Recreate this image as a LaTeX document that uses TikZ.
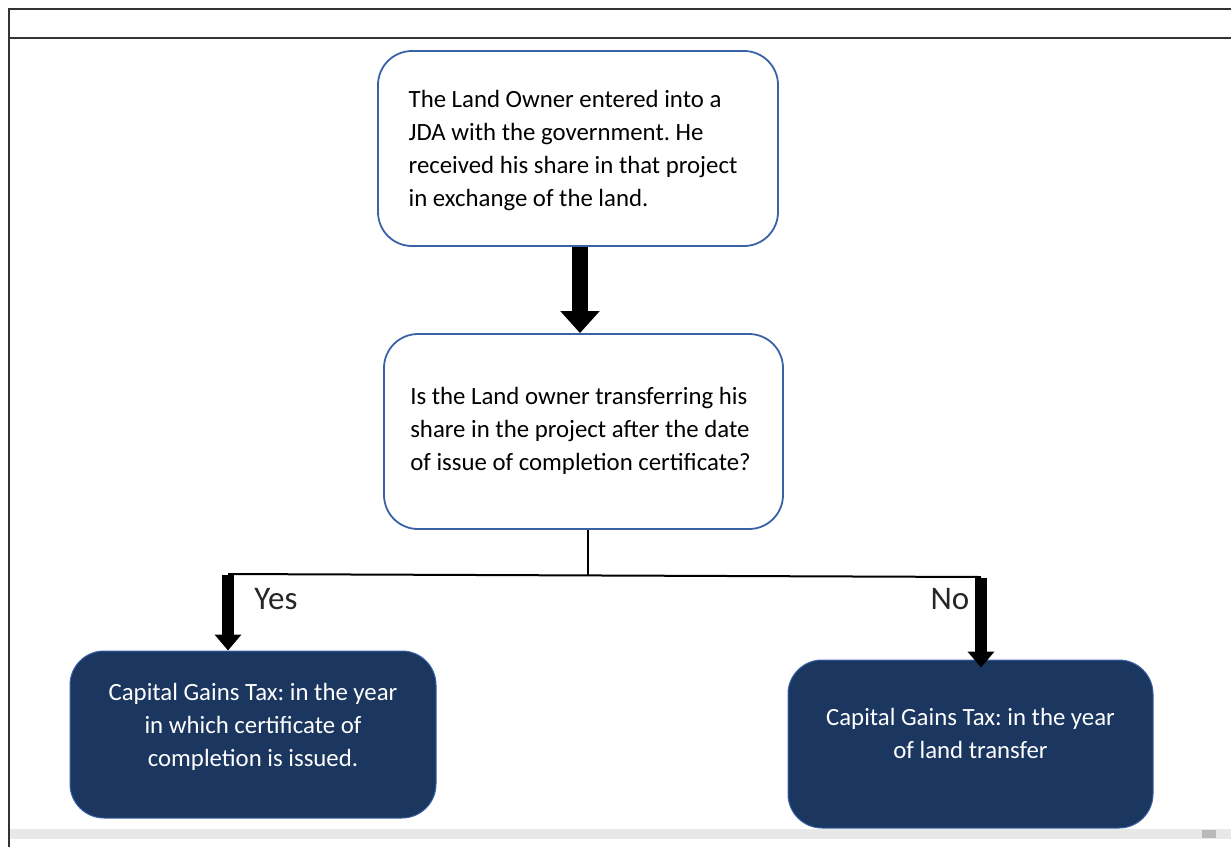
\documentclass[tikz,border=0pt]{standalone}
\usepackage{fontspec}
\setmainfont{Carlito}
\usetikzlibrary{arrows.meta}
\definecolor{boxblue}{HTML}{3A62A8}
\definecolor{navy}{HTML}{1B365F}
\definecolor{framegray}{HTML}{333333}
\frenchspacing
\newcommand{\shiftv}[2]{\raisebox{#1}[\height][\depth]{#2}}
\tikzset{
  qbox/.style={draw=boxblue, line width=1.8pt, fill=white, rounded corners=34pt, inner sep=0pt, font=\fontsize{24.8}{33}\selectfont},
  ansbox/.style={draw=boxblue, line width=1pt, fill=navy, rounded corners=34pt, inner sep=0pt, text=white, font=\fontsize{24.8}{33}\selectfont},
  bigarrow/.style={line width=16pt, -{Triangle[width=38pt,length=22pt]}},
  smallarrow/.style={line width=12pt, -{Triangle[width=26pt,length=16pt]}},
  forkline/.style={line width=2pt},
  lbl/.style={font=\fontsize{33}{36}\selectfont, inner sep=0pt, text=black!85}
}
\begin{document}
\begin{tikzpicture}[x=1pt,y=-1pt]
\useasboundingbox (0,0) rectangle (1231,847);
% frame
\draw[framegray, line width=2pt] (1231,9) -- (9,9) -- (9,847);
\draw[framegray, line width=2pt] (9,37.5) -- (1231,37.5);
% scrollbar
\fill[gray!18] (10,829) rectangle (1231,839);
\fill[gray!55] (1202,830) rectangle (1216,838);
% boxes
\node[qbox, minimum width=400pt, minimum height=195pt] (b1) at (578,148.5)
 {\hspace*{-10pt}\shiftv{-2pt}{\begin{tabular}{@{}l@{}}The Land Owner entered into a\\JDA with the government. He\\received his share in that project\\in exchange of the land.\end{tabular}}};
\node[qbox, minimum width=399pt, minimum height=195pt] (b2) at (583.5,431.5)
 {\hspace*{-6pt}\shiftv{1pt}{\begin{tabular}{@{}l@{}}Is the Land owner transferring his\\share in the project after the date\\of issue of completion certificate?\end{tabular}}};
\node[ansbox, minimum width=366pt, minimum height=167pt] (b3) at (253,734.5)
 {\shiftv{8pt}{\begin{tabular}{@{}c@{}}Capital Gains Tax: in the year\\in which certificate of\\completion is issued.\end{tabular}}};
\node[ansbox, minimum width=365pt, minimum height=168pt] (b4) at (970.5,744)
 {\shiftv{9pt}{\begin{tabular}{@{}c@{}}Capital Gains Tax: in the year\\of land transfer\end{tabular}}};
% connectors
\coordinate (a1) at (580,0);
\draw[bigarrow] (b1.south -| a1) -- (b2.north -| a1);
\coordinate (fork) at (588,575);
\coordinate (fl) at (228,574);
\coordinate (fr) at (981,577);
\draw[forkline] (b2.south -| fork) -- (fork);
\draw[forkline] (fl) -- (fr);
\draw[smallarrow] ([yshift=-1pt]fl) -- (fl |- b3.north);
\draw[smallarrow] ([yshift=-1pt]fr) -- ([yshift=-8pt]fr |- b4.north);
\node[lbl] (yes) at (276,599) {Yes};
\node[lbl] (no) at (950,599) {No};
\end{tikzpicture}
\end{document}
